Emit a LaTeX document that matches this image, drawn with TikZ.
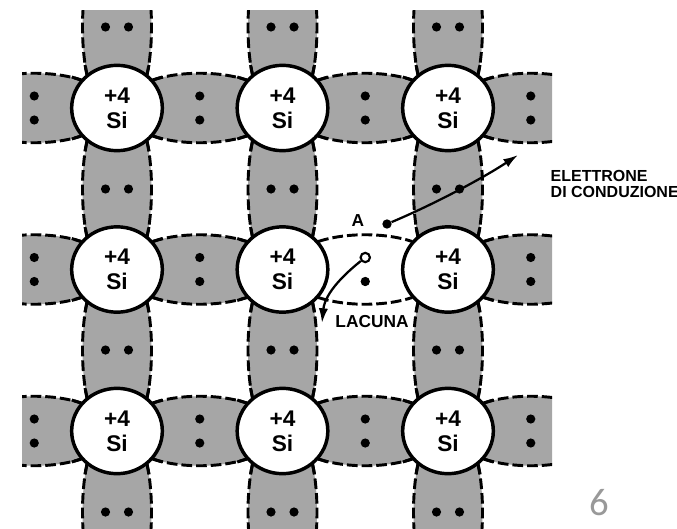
\documentclass[tikz,border=0pt]{standalone}
\usepackage{fontspec}
\setsansfont{Liberation Sans}
\newfontfamily\numfont{Carlito}
\usetikzlibrary{shapes.geometric,arrows.meta}

\tikzset{
  atomo/.style={ellipse,draw,line width=2.6pt,fill=white,
    minimum width=68pt,minimum height=64pt,inner sep=0pt,align=center,
    font=\sffamily\bfseries\fontsize{17}{19}\selectfont},
  guscio/.style={fill=black!35},
  bordo/.style={line width=2.2pt,dash pattern=on 8pt off 3pt},
  tacca/.style={line width=2.2pt},
  elettrone/.style={circle,fill=black,inner sep=0pt,minimum size=7pt},
  lacuna/.style={circle,draw,line width=1.6pt,fill=white,inner sep=0pt,minimum size=7pt},
  scritta/.style={font=\sffamily\bfseries\fontsize{13}{12}\selectfont},
  freccia/.style={line width=1.7pt,-{Latex[length=11pt,width=7pt]}}
}

% legame orizzontale, centro (#1,#2)
\newcommand{\legh}[2]{%
  \fill[guscio] (#1-47,#2-28) .. controls (#1-20,#2-37) and (#1+20,#2-37) .. (#1+47,#2-28)
    -- (#1+70,#2-28) -- (#1+70,#2+28) -- (#1+47,#2+28)
    .. controls (#1+20,#2+37) and (#1-20,#2+37) .. (#1-47,#2+28)
    -- (#1-70,#2+28) -- (#1-70,#2-28) -- cycle;
  \draw[bordo] (#1-47,#2-28) .. controls (#1-20,#2-37) and (#1+20,#2-37) .. (#1+47,#2-28);
  \draw[bordo] (#1-47,#2+28) .. controls (#1-20,#2+37) and (#1+20,#2+37) .. (#1+47,#2+28);
  \draw[tacca] (#1-47,#2-28) -- (#1-37.5,#2-31) (#1+47,#2-28) -- (#1+37.5,#2-31)
               (#1-47,#2+28) -- (#1-37.5,#2+31) (#1+47,#2+28) -- (#1+37.5,#2+31);
  \fill (#1,#2-12) circle (4.6) (#1,#2+12) circle (4.6);
}

% legame verticale, centro (#1,#2)
\newcommand{\legv}[2]{%
  \fill[guscio] (#1-30,#2-48) .. controls (#1-36,#2-20) and (#1-36,#2+20) .. (#1-30,#2+48)
    -- (#1-30,#2+70) -- (#1+30,#2+70) -- (#1+30,#2+48)
    .. controls (#1+36,#2+20) and (#1+36,#2-20) .. (#1+30,#2-48)
    -- (#1+30,#2-70) -- (#1-30,#2-70) -- cycle;
  \draw[bordo] (#1-30,#2-48) .. controls (#1-36,#2-20) and (#1-36,#2+20) .. (#1-30,#2+48);
  \draw[bordo] (#1+30,#2-48) .. controls (#1+36,#2-20) and (#1+36,#2+20) .. (#1+30,#2+48);
  \draw[tacca] (#1-30,#2-48) -- (#1-32,#2-38) (#1+30,#2-48) -- (#1+32,#2-38)
               (#1-30,#2+48) -- (#1-32,#2+38) (#1+30,#2+48) -- (#1+32,#2+38);
  \fill (#1-11.5,#2) circle (4.6) (#1+11.5,#2) circle (4.6);
}

\begin{document}
\begin{tikzpicture}[x=0.75pt,y=-0.75pt]
\useasboundingbox (0,0) rectangle (677,528);

% legami covalenti
\begin{scope}
\clip (22,11) rectangle (552,528);
\foreach \y in {108,431}
  \foreach \x in {34.25,199.75,365.25,530.75}
    {\legh{\x}{\y}}
\foreach \x in {34.25,199.75,530.75}
  {\legh{\x}{269.5}}
\foreach \x in {117,282.5,448}
  \foreach \y in {27,189,350,512}
    {\legv{\x}{\y}}
\end{scope}

% legame rotto
\draw[bordo] (365.25-47,269.5-28) .. controls (365.25-20,269.5-37) and (365.25+20,269.5-37) .. (365.25+47,269.5-28);
\draw[bordo] (365.25-47,269.5+28) .. controls (365.25-20,269.5+37) and (365.25+20,269.5+37) .. (365.25+47,269.5+28);

% atomi di silicio
\foreach \r/\y in {1/108,2/269.5,3/431}
  \foreach \c/\x in {1/117,2/282.5,3/448}
    {\node[atomo] (s\r\c) at (\x,\y) {+4\\Si};}

\node[lacuna] (h) at (365.25,257.5) {};
\node[elettrone] (d) at (365.25,281.5) {};
\node[elettrone] (e) at (387,224) {};
\node[scritta] (a) at (358,221) {A};

\coordinate (fe) at (518,155);
\coordinate (fl) at (322,323);
\draw[freccia] (e) .. controls (430,206) and (480,180) .. (fe);
\draw[freccia] (h) .. controls (347,272) and (325,292) .. (fl);

\node[scritta] (lab) at (372,322) {LACUNA};
\node[scritta,anchor=north west,align=left,font=\sffamily\bfseries\fontsize{12}{12}\selectfont] (el) at (546,166) {ELETTRONE\\DI CONDUZIONE};

\node[text=black!40,font=\numfont\fontsize{29}{29}\selectfont] (pag) at (599.5,503) {6};
\end{tikzpicture}
\end{document}
